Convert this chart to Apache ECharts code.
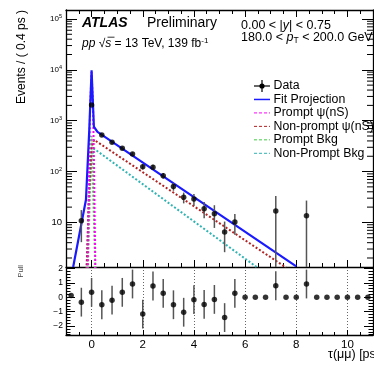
<!DOCTYPE html>
<html><head><meta charset="utf-8">
<script src="https://cdn.jsdelivr.net/npm/echarts@6/dist/echarts.min.js"></script>
<style>html,body{margin:0;padding:0;background:#fff}#c{width:374px;height:366px}</style>
</head><body><div id="c"></div>
<script>
// ---- data ----
const binCenters = [-0.8,-0.4,0.0,0.4,0.8,1.2,1.6,2.0,2.4,2.8,3.2,3.6,4.0,4.4,4.8,5.2,5.6,6.0,6.4,6.8,7.2,7.6,8.0,8.4,8.8,9.2,9.6,10.0,10.4,10.8];
const eventCounts = [0,10.8,2040,525,377,288,222,125,122,83,51,31.2,28.8,18.6,14.8,6.5,10.2,0,0,0,16.7,0,0,13.5,0,0,0,0,0,0];
const eventErrors = [0,6.7,55,28,23,20,18,15,14,11,9,7.5,7.5,6.5,7,3.9,4.5,0,0,0,16.5,0,0,13.4,0,0,0,0,0,0];
const pullValues = [0.13,-0.34,0.34,-0.52,-0.2,0.34,0.92,-1.17,0.78,0.27,-0.52,-1.04,-0.17,-0.5,-0.15,-1.41,0.27,0,0,0,0.8,0,0,0.92,0,0,0,0,0,0];
const pullErrors = [0,1,1,1,1,1,1,1,1,1,1,1,1,1,1,1,1,0,0,0,1,0,0,1,0,0,0,0,0,0];

const fitX = [-0.72,-0.22,-0.09,0.0,0.09,0.23,8.0];
const fitY = [1.33,28,660,9800,760,605,1.37];
const promptPsiX = [-0.15,-0.1,-0.06,0.0,0.06,0.1,0.15];
const promptPsiY = [1.0,100,1600,9000,1600,100,1.0];
const nonPromptPsiX = [-0.2,-0.1,0.0,0.1,7.6];
const nonPromptPsiY = [1.0,40,300,420,1.3];
const promptBkgX = [-0.15,0.0,0.15];
const promptBkgY = [1.0,500,1.0];
const nonPromptBkgX = [-0.2,-0.1,0.0,0.1,6.45];
const nonPromptBkgY = [1.0,30,200,280,1.33];

const xTickLabels = ['0','2','4','6','8','10'];

// ---- styling / layout ----
const FONT = '"Liberation Sans", Arial, Helvetica, sans-serif';
const G0 = {left:66, top:10, width:307, height:257};
const G1 = {left:66, top:267, width:307, height:68};
const Y_MIN = 1.33, Y_MAX = 1.5e5, P_MIN = -2.62, P_MAX = 2.1;
const C_FIT = '#1a1aff', C_PPSI = '#ff00ff', C_NPSI = '#b22222', C_PBKG = '#44cc44', C_NBKG = '#2fb3b3';

const chart = echarts.init(document.getElementById('c'));
const axLine = {show:true, onZero:false, lineStyle:{color:'#000', width:1.3}};
const zip = (a,b) => a.map((v,i)=>[v,b[i]]);

function errRender(clampLo, color) {
  return function(params, api) {
    const x = api.value(0), y = api.value(1), e = api.value(2);
    if (!(e > 0)) return null;
    let lo = y - e; if (lo < clampLo) lo = clampLo;
    const p1 = api.coord([x, y + e]), p2 = api.coord([x, lo]);
    return {type:'line', shape:{x1:p1[0], y1:p1[1], x2:p2[0], y2:p2[1]}, style:{stroke:color, lineWidth:1.5}};
  };
}
function logLabel(v) {
  const e = Math.round(Math.log10(v));
  if (e === 1) return '{a|10}';
  return '{b|10}{s|' + e + '}';
}

const dataTop = binCenters.map((x,i)=>[x, eventCounts[i], eventErrors[i]]).filter(d=>d[1]>0);
const dataPull = binCenters.map((x,i)=>[x, pullValues[i], pullErrors[i]]);

const xCommon = {type:'value', min:-1, max:11, splitNumber:6};
const option = {
  animation:false,
  grid:[Object.assign({}, G0), Object.assign({}, G1)],
  xAxis:[
    Object.assign({gridIndex:0, position:'bottom', axisLine:axLine,
      axisTick:{inside:true, length:7, lineStyle:{color:'#000'}},
      minorTick:{show:true, splitNumber:4, length:4, lineStyle:{color:'#000'}},
      axisLabel:{show:false}, splitLine:{show:false}}, xCommon),
    Object.assign({gridIndex:0, position:'top', axisLine:axLine,
      axisTick:{inside:true, length:7, lineStyle:{color:'#000'}},
      minorTick:{show:true, splitNumber:4, length:4, lineStyle:{color:'#000'}},
      axisLabel:{show:false}, splitLine:{show:false}}, xCommon),
    Object.assign({gridIndex:1, position:'bottom', axisLine:axLine,
      axisTick:{inside:true, length:5, lineStyle:{color:'#000'}},
      minorTick:{show:true, splitNumber:4, length:3, lineStyle:{color:'#000'}},
      axisLabel:{show:true, margin:4, fontSize:11.5, color:'#000', fontFamily:FONT, showMinLabel:false, showMaxLabel:false,
        formatter:v => xTickLabels.indexOf(String(v)) >= 0 ? String(v) : ''},
      splitLine:{show:true, lineStyle:{color:'#666', type:[1,2], width:1}}}, xCommon)
  ],
  yAxis:[
    {gridIndex:0, type:'log', logBase:10, min:Y_MIN, max:Y_MAX, position:'left', axisLine:axLine,
      axisTick:{inside:true, length:11, lineStyle:{color:'#000'}},
      axisLabel:{margin:4, color:'#000', fontFamily:FONT, showMinLabel:false, showMaxLabel:false, formatter:logLabel,
        rich:{a:{fontSize:9.5, fontFamily:FONT, color:'#000'}, b:{fontSize:8, fontFamily:FONT, color:'#000'},
              s:{fontSize:5.5, fontFamily:FONT, color:'#000', verticalAlign:'top', padding:[0,0,5,0]}}},
      splitLine:{show:false}},
    {gridIndex:0, type:'log', logBase:10, min:Y_MIN, max:Y_MAX, position:'right', axisLine:axLine,
      axisTick:{inside:true, length:11, lineStyle:{color:'#000'}}, axisLabel:{show:false}, splitLine:{show:false}},
    {gridIndex:1, type:'value', min:P_MIN, max:P_MAX, splitNumber:5, position:'left', axisLine:axLine,
      axisTick:{inside:true, length:9, lineStyle:{color:'#000'}},
      minorTick:{show:true, splitNumber:5, length:4.5, lineStyle:{color:'#000'}},
      axisLabel:{margin:3, fontSize:8.5, color:'#000', fontFamily:FONT, showMinLabel:false, showMaxLabel:false,
        formatter:v => v < 0 ? '\u2212' + (-v) : String(v)},
      splitLine:{show:false}},
    {gridIndex:1, type:'value', min:P_MIN, max:P_MAX, splitNumber:5, position:'right', axisLine:axLine,
      axisTick:{inside:true, length:9, lineStyle:{color:'#000'}},
      minorTick:{show:true, splitNumber:5, length:4.5, lineStyle:{color:'#000'}},
      axisLabel:{show:false}, splitLine:{show:false}}
  ],
  series:[
    {type:'line', xAxisIndex:0, yAxisIndex:0, data:zip(nonPromptBkgX, nonPromptBkgY), showSymbol:false, z:2,
      lineStyle:{color:C_NBKG, width:2, type:[2,2]}},
    {type:'line', xAxisIndex:0, yAxisIndex:0, data:zip(promptBkgX, promptBkgY), showSymbol:false, z:2,
      lineStyle:{color:C_PBKG, width:2, type:[2,2]}},
    {type:'line', xAxisIndex:0, yAxisIndex:0, data:zip(nonPromptPsiX, nonPromptPsiY), showSymbol:false, z:2,
      lineStyle:{color:C_NPSI, width:2, type:[2,2]}},
    {type:'line', xAxisIndex:0, yAxisIndex:0, data:zip(promptPsiX, promptPsiY), showSymbol:false, z:2,
      lineStyle:{color:C_PPSI, width:2, type:[2,2]}},
    {type:'line', xAxisIndex:0, yAxisIndex:0, data:zip(fitX, fitY), showSymbol:false, z:3,
      lineStyle:{color:C_FIT, width:2.2}},
    {type:'custom', xAxisIndex:0, yAxisIndex:0, data:dataTop, renderItem:errRender(Y_MIN, '#555'), z:4},
    {type:'scatter', xAxisIndex:0, yAxisIndex:0, data:dataTop.map(d=>[d[0],d[1]]), symbolSize:5.5, z:5,
      itemStyle:{color:'#000'}},
    {type:'custom', xAxisIndex:2, yAxisIndex:2, data:dataPull, renderItem:errRender(-10, '#555'), z:4},
    {type:'scatter', xAxisIndex:2, yAxisIndex:2, data:dataPull.map(d=>[d[0],d[1]]), symbolSize:5.5, z:5,
      itemStyle:{color:'#000'}}
  ]
};
chart.setOption(option);

// ---- decorations: log minor ticks, texts, legend ----
const gfx = [];
const xl = G0.left, xr = G0.left + G0.width;
for (let e = 0; e <= 5; e++) {
  for (let m = 2; m <= 9; m++) {
    const v = m * Math.pow(10, e);
    if (v <= Y_MIN || v >= Y_MAX) continue;
    const py = chart.convertToPixel({yAxisIndex:0}, v);
    gfx.push({type:'line', shape:{x1:xl, y1:py, x2:xl+6, y2:py}, style:{stroke:'#000', lineWidth:1}, silent:true});
    gfx.push({type:'line', shape:{x1:xr-6, y1:py, x2:xr, y2:py}, style:{stroke:'#000', lineWidth:1}, silent:true});
  }
}
function txt(text, x, y, opts) {
  gfx.push({type:'text', x:x, y:y, rotation:(opts && opts.rotation) || 0, silent:true,
    style:Object.assign({text:text, fill:'#000', font:'12px ' + FONT, align:'left', verticalAlign:'middle'}, opts && opts.style)});
}
txt('ATLAS', 82, 23, {style:{font:'italic bold 14px ' + FONT}});
txt('Preliminary', 147, 23, {style:{font:'14px ' + FONT}});
txt('{i|pp} \u221A{i|s} = 13 TeV, 139 fb{s|-1}', 82, 44, {style:{font:'12px ' + FONT,
  rich:{i:{font:'italic 12px ' + FONT}, s:{font:'8px ' + FONT, verticalAlign:'top', padding:[0,0,6,0]}}}});
// overline of the square root
gfx.push({type:'line', shape:{x1:107.5, y1:37.2, x2:114.5, y2:37.2}, style:{stroke:'#000', lineWidth:0.8}, silent:true});
txt('0.00 < |{i|y}| < 0.75', 241, 26, {style:{font:'12.5px ' + FONT, rich:{i:{font:'italic 12.5px ' + FONT}}}});
txt('180.0 < {i|p}{t|T} < 200.0 GeV', 241, 38, {style:{font:'12.5px ' + FONT,
  rich:{i:{font:'italic 12.5px ' + FONT}, t:{font:'8.5px ' + FONT, verticalAlign:'bottom', padding:[5,0,0,0]}}}});
txt('Events / ( 0.4 ps )', 21.5, 10, {rotation:Math.PI/2, style:{font:'12px ' + FONT, align:'right'}});
txt('Pull', 21, 265, {rotation:Math.PI/2, style:{font:'7.5px ' + FONT, align:'right', fill:'#444'}});
txt('\u03C4(\u03BC\u03BC) [ps]', 328, 355, {style:{font:'12.5px ' + FONT}});

// legend
const legendEntries = [
  {name:'Data', kind:'data'},
  {name:'Fit Projection', kind:'line', color:C_FIT, dash:null, w:1.5},
  {name:'Prompt \u03C8(nS)', kind:'line', color:C_PPSI, dash:[3,2], w:1},
  {name:'Non-prompt \u03C8(nS)', kind:'line', color:C_NPSI, dash:[3,2], w:1},
  {name:'Prompt Bkg', kind:'line', color:C_PBKG, dash:[3,2], w:1},
  {name:'Non-Prompt Bkg', kind:'line', color:C_NBKG, dash:[3,2], w:1}
];
legendEntries.forEach((en, i) => {
  const y = 86 + i * 13.46;
  if (en.kind === 'data') {
    gfx.push({type:'line', shape:{x1:254, y1:y, x2:270, y2:y}, style:{stroke:'#000', lineWidth:1.2}, silent:true});
    gfx.push({type:'line', shape:{x1:262, y1:y-6, x2:262, y2:y+6}, style:{stroke:'#000', lineWidth:1.2}, silent:true});
    gfx.push({type:'circle', shape:{cx:262, cy:y, r:2.6}, style:{fill:'#000'}, silent:true});
  } else {
    gfx.push({type:'line', shape:{x1:254, y1:y, x2:270, y2:y}, style:{stroke:en.color, lineWidth:en.w, lineDash:en.dash}, silent:true});
  }
  txt(en.name, 273.5, y, {style:{font:'12.3px ' + FONT}});
});
chart.setOption({graphic:gfx});
</script></body></html>
